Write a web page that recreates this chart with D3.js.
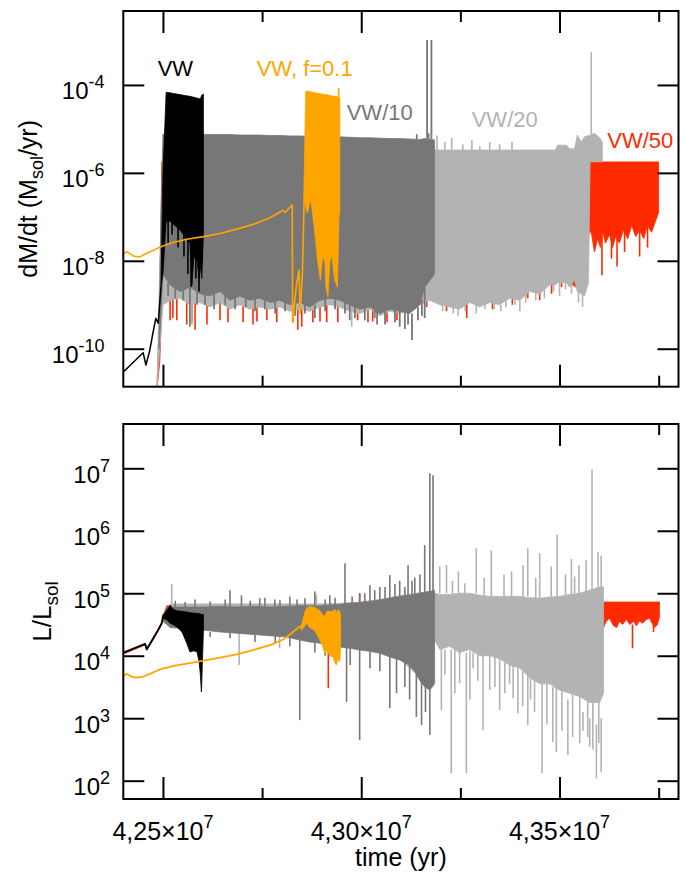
<!DOCTYPE html>
<html><head><meta charset="utf-8">
<script src="https://cdn.jsdelivr.net/npm/d3@7"></script>
<style>body{margin:0;background:#fff}svg{display:block}</style>
</head><body>
<script>
// ================= DATA (time in units of 1e7 yr, values as log10) =================
const xMajor = [4.25, 4.30, 4.35];
const xMinor = [4.275, 4.325, 4.375];
const xLabels = ["4,25", "4,30", "4,35"];
const yTopTicks = [-4, -6, -8, -10];
const yBotTicks = [2, 3, 4, 5, 6, 7];

// ---------- upper panel: log10 dM/dt ----------
const vwPreT = [4.2400, 4.2450, 4.2457, 4.2466, 4.2476, 4.2482, 4.2488, 4.2495];
const vwPreM = [-10.53, -10.09, -10.37, -10.07, -9.58, -9.31, -9.42, -8.6];
const vwT  = [4.2495, 4.2500, 4.2508, 4.2518, 4.2530, 4.2543, 4.2555, 4.2568, 4.2573, 4.2578, 4.2586, 4.2591, 4.2594, 4.2598, 4.2602];
const vwHi = [-8.6, -6.0, -4.17, -4.18, -4.20, -4.22, -4.24, -4.26, -4.27, -4.28, -4.30, -4.31, -4.32, -4.23, -4.21];
const vwLo = [-8.6, -8.3, -7.1, -7.1, -7.2, -7.3, -7.45, -7.6, -8.55, -7.9, -8.0, -8.4, -8.1, -8.4, -7.4];
const vwSpikes = [[4.2513,-7.1,-7.6],[4.2523,-7.1,-7.4],[4.2538,-7.2,-7.7],[4.2553,-7.4,-7.9],[4.2563,-7.5,-8.3],[4.2571,-7.6,-8.59],[4.2583,-7.9,-8.4],[4.2591,-8.0,-8.7],[4.2598,-7.8,-8.0]];

const vw10T  = [4.2490, 4.2495, 4.2500, 4.2518, 4.2543, 4.2568, 4.2593, 4.2618, 4.2644, 4.2669, 4.2694, 4.2719, 4.2744, 4.2770, 4.2795, 4.2820, 4.2845, 4.2870, 4.2896, 4.2921, 4.2946, 4.2971, 4.2996, 4.3022, 4.3047, 4.3072, 4.3097, 4.3122, 4.3148, 4.3160, 4.3173, 4.3185];
const vw10Hi = [-10.0, -7.0, -5.12, -5.12, -5.12, -5.12, -5.12, -5.13, -5.13, -5.13, -5.14, -5.14, -5.14, -5.15, -5.15, -5.16, -5.16, -5.17, -5.17, -5.18, -5.18, -5.19, -5.20, -5.20, -5.21, -5.22, -5.22, -5.23, -5.24, -5.22, -5.24, -5.25];
const vw10Lo = [-10.0, -9.2, -8.3, -8.55, -8.7, -8.6, -8.75, -8.8, -8.7, -8.9, -8.8, -8.9, -8.85, -8.95, -8.9, -9.0, -8.95, -9.05, -8.9, -8.85, -8.9, -9.0, -9.1, -9.05, -9.2, -9.1, -9.15, -9.2, -9.0, -8.6, -8.45, -8.3];
const vw10Spikes = [[4.2568,-8.6,-9.5],[4.2883,-9.0,-9.3],[4.2971,-9.0,-9.35],[4.3040,-9.1,-9.45],[4.3097,-9.15,-9.5],[4.3110,-9.1,-9.55],[4.3128,-9.2,-9.8],[4.3160,-8.6,-9.3],[4.3166,-5.22,-2.98],[4.3177,-5.24,-2.98],
  [4.2513,-8.5,-8.8],[4.2531,-8.6,-8.85],[4.2551,-8.65,-8.9],[4.2586,-8.7,-9.0],[4.2606,-8.75,-9.0],[4.2629,-8.75,-9.1],[4.2657,-8.8,-9.0],[4.2682,-8.85,-9.1],[4.2709,-8.85,-9.05],[4.2732,-8.85,-9.15],[4.2757,-8.9,-9.1],[4.2783,-8.9,-9.2],[4.2808,-8.95,-9.15],[4.2833,-8.95,-9.25],[4.2858,-9.0,-9.2],[4.2909,-8.85,-9.15],[4.2934,-8.9,-9.1],[4.2959,-8.95,-9.2],[4.2984,-9.05,-9.3],[4.3009,-9.05,-9.35],[4.3034,-9.1,-9.3],[4.3060,-9.15,-9.45],[4.3085,-9.1,-9.4],[4.3118,-9.15,-9.45],[4.3143,-9.05,-9.35],[4.3153,-8.9,-9.25],[4.3170,-5.24,-5.1],[4.3140,-5.23,-5.12]];

const vw20T  = [4.2485, 4.2492, 4.2500, 4.2518, 4.2543, 4.2568, 4.2593, 4.2618, 4.2644, 4.2669, 4.2694, 4.2719, 4.2744, 4.2770, 4.2795, 4.2820, 4.2845, 4.2870, 4.2896, 4.2921, 4.2946, 4.2971, 4.2996, 4.3022, 4.3047, 4.3072, 4.3097, 4.3122, 4.3148, 4.3173, 4.3198, 4.3223, 4.3248, 4.3273, 4.3299, 4.3324, 4.3349, 4.3374, 4.3400, 4.3425, 4.3450, 4.3475, 4.3490, 4.3495, 4.3518, 4.3525, 4.3538, 4.3545, 4.3555, 4.3563, 4.3573, 4.3577, 4.3588, 4.3601, 4.3608];
const vw20Hi = [-10.9, -8.0, -5.48, -5.48, -5.48, -5.48, -5.48, -5.48, -5.48, -5.48, -5.48, -5.48, -5.48, -5.48, -5.48, -5.48, -5.48, -5.48, -5.48, -5.48, -5.48, -5.48, -5.48, -5.48, -5.48, -5.48, -5.48, -5.48, -5.48, -5.48, -5.48, -5.48, -5.48, -5.48, -5.48, -5.48, -5.48, -5.48, -5.48, -5.48, -5.48, -5.48, -5.48, -5.37, -5.37, -5.45, -5.45, -5.14, -5.3, -5.18, -5.15, -5.15, -5.1, -5.2, -5.3];
const vw20Lo = [-10.9, -10.0, -9.0, -8.9, -8.85, -9.0, -8.95, -9.05, -8.95, -9.1, -9.0, -9.1, -9.05, -9.1, -9.05, -9.15, -9.1, -9.15, -9.05, -9.0, -9.05, -9.15, -9.2, -9.1, -9.25, -9.15, -9.2, -9.1, -9.0, -8.9, -9.0, -9.05, -9.1, -8.95, -9.05, -8.95, -9.0, -8.85, -8.9, -8.7, -8.75, -8.55, -8.55, -8.5, -8.5, -8.6, -8.45, -8.7, -8.75, -8.8, -8.5, -5.75, -5.75, -5.75, -5.75];
const vw20Spikes = [[4.2573,-9.0,-9.45],[4.2976,-9.15,-9.5],[4.3191,-5.48,-5.15],[4.3211,-5.48,-5.3],[4.3228,-5.48,-5.2],[4.3244,-9.1,-9.25],[4.3256,-5.48,-5.35],[4.3279,-5.48,-5.25],[4.3299,-5.48,-5.4],[4.3324,-5.48,-5.3],[4.3349,-5.48,-5.35],[4.3352,-9.0,-9.15],[4.3380,-5.48,-5.3],[4.3400,-8.9,-9.15],[4.3500,-8.5,-8.8],[4.3558,-8.75,-9.05],[4.3580,-5.2,-3.25],
  [4.3205,-8.95,-9.15],[4.3232,-9.05,-9.2],[4.3262,-9.0,-9.15],[4.3290,-9.0,-9.2],[4.3312,-8.95,-9.1],[4.3335,-8.95,-9.1],[4.3365,-8.9,-9.05],[4.3388,-8.85,-9.0],[4.3415,-8.75,-8.95],[4.3440,-8.7,-8.9],[4.3462,-8.65,-8.85],[4.3485,-8.55,-8.7],[4.3515,-8.5,-8.65],[4.3530,-8.5,-8.75],[4.3548,-8.7,-8.95]];

const vw50T  = [4.2485, 4.2492, 4.2497, 4.2518, 4.2543, 4.2568, 4.2593, 4.2618, 4.2644, 4.2669, 4.2694, 4.2719, 4.2744, 4.2770, 4.2795, 4.2820, 4.2845, 4.2870, 4.2896, 4.2921, 4.2946, 4.2971, 4.2996, 4.3022, 4.3047, 4.3072, 4.3097, 4.3122, 4.3148, 4.3173, 4.3198, 4.3223, 4.3248, 4.3273, 4.3299, 4.3324, 4.3349, 4.3374, 4.3400, 4.3425, 4.3450, 4.3475, 4.3500, 4.3525, 4.3550, 4.3576, 4.3581, 4.3588, 4.3596, 4.3603, 4.3608, 4.3616, 4.3626, 4.3634, 4.3641, 4.3651, 4.3661, 4.3672, 4.3682, 4.3692, 4.3702, 4.3712, 4.3722, 4.3732, 4.3742, 4.3750];
const vw50Hi = [-10.9, -9.0, -5.75, -5.75, -5.75, -5.75, -5.75, -5.75, -5.75, -5.75, -5.75, -5.75, -5.75, -5.75, -5.75, -5.75, -5.75, -5.75, -5.75, -5.75, -5.75, -5.75, -5.75, -5.75, -5.75, -5.75, -5.75, -5.75, -5.75, -5.75, -5.75, -5.75, -5.75, -5.75, -5.75, -5.75, -5.75, -5.75, -5.75, -5.75, -5.75, -5.75, -5.75, -5.75, -5.75, -5.75, -5.75, -5.75, -5.75, -5.75, -5.75, -5.75, -5.75, -5.75, -5.75, -5.75, -5.75, -5.75, -5.75, -5.75, -5.75, -5.75, -5.75, -5.75, -5.75, -5.75];
const vw50Lo = [-10.9, -10.3, -9.0, -8.85, -8.8, -8.95, -8.9, -9.0, -8.9, -9.05, -8.95, -9.05, -9.0, -9.05, -9.0, -9.1, -9.05, -9.1, -9.0, -8.95, -9.0, -9.1, -9.15, -9.05, -9.2, -9.1, -9.15, -9.05, -8.95, -8.85, -8.95, -9.0, -9.05, -8.9, -9.0, -8.9, -8.95, -8.8, -8.85, -8.65, -8.7, -8.5, -8.45, -8.5, -8.65, -7.3, -7.4, -7.8, -7.5, -7.7, -7.3, -7.6, -7.4, -7.7, -7.45, -7.6, -7.3, -7.5, -7.2, -7.45, -7.3, -7.5, -7.2, -7.35, -7.1, -6.9];
const vw50Spikes = [[4.2518,-8.85,-9.35],[4.2525,-8.85,-9.3],[4.2535,-8.85,-9.35],[4.2560,-8.9,-9.45],[4.2573,-8.95,-9.4],[4.2581,-8.95,-9.57],[4.2611,-9.0,-9.45],[4.2644,-8.9,-9.35],[4.2664,-9.0,-9.4],[4.2702,-9.0,-9.4],[4.2727,-9.0,-9.45],[4.2737,-9.0,-9.38],[4.2762,-9.0,-9.35],[4.2787,-9.0,-9.4],[4.2828,-9.1,-9.4],[4.2840,-9.05,-9.57],[4.2850,-9.05,-9.5],[4.2878,-9.1,-9.4],[4.2896,-9.0,-9.38],[4.2913,-9.0,-9.4],[4.2941,-9.0,-9.4],[4.2991,-9.1,-9.35],[4.3017,-9.1,-9.4],[4.3029,-9.1,-9.38],[4.3065,-9.1,-9.4],[4.3090,-9.1,-9.35],[4.3165,-8.85,-9.05],[4.3215,-8.95,-9.15],[4.3266,-8.9,-9.3],[4.3331,-8.9,-9.1],[4.3381,-8.8,-9.0],[4.3420,-8.65,-8.85],[4.3450,-8.7,-8.9],[4.3480,-8.5,-8.75],[4.3505,-8.45,-8.6],[4.3607,-7.3,-8.33],[4.3631,-7.5,-7.95],[4.3645,-7.5,-8.13],[4.3664,-7.3,-7.8],[4.3702,-7.3,-7.9],[4.3722,-7.2,-7.7]];

const vwf01LineT = [4.2400, 4.2409, 4.2425, 4.2442, 4.2459, 4.2476, 4.2492, 4.2518, 4.2560, 4.2602, 4.2644, 4.2686, 4.2728, 4.2770, 4.2803, 4.2809, 4.2814, 4.2826, 4.2827, 4.2836, 4.2843, 4.2846, 4.2852, 4.2856];
const vwf01LineM = [-7.84, -7.79, -7.89, -7.91, -7.83, -7.76, -7.69, -7.6, -7.51, -7.45, -7.38, -7.28, -7.17, -7.02, -6.85, -6.9, -6.84, -6.73, -9.39, -8.6, -8.21, -9.2, -8.2, -6.6];
const vwf01T  = [4.2855, 4.2860, 4.2864, 4.2870, 4.2873, 4.2883, 4.2890, 4.2897, 4.2903, 4.2908, 4.2911, 4.2916, 4.2921, 4.2926, 4.2933, 4.2940, 4.2944, 4.2946];
const vwf01Hi = [-6.6, -4.15, -4.14, -4.15, -4.16, -4.18, -4.19, -4.2, -4.21, -4.22, -4.22, -4.23, -4.24, -4.25, -4.26, -4.27, -4.28, -4.3];
const vwf01Lo = [-6.6, -6.8, -6.92, -6.7, -6.62, -7.37, -8.0, -8.44, -7.9, -8.0, -8.6, -8.82, -8.0, -7.9, -8.44, -8.6, -7.0, -6.9];
const vwf01Spikes = [[4.2943,-4.28,-4.07]];

// ---------- lower panel: log10 L/Lsol ----------
const lvwPreT = [4.2400, 4.2455, 4.2459, 4.2476, 4.2488, 4.2497, 4.2501];
const lvwPreL = [4.05, 4.19, 4.10, 4.28, 4.41, 4.52, 4.65];
const lvw50PreL = [4.03, 4.18, 4.11, 4.29, 4.42, 4.53, 4.66];
const lvwT  = [4.2501, 4.2510, 4.2518, 4.2525, 4.2535, 4.2548, 4.2560, 4.2568, 4.2578, 4.2586, 4.2591, 4.2594, 4.2597, 4.2598, 4.2602];
const lvwHi = [4.65, 4.73, 4.81, 4.75, 4.72, 4.71, 4.70, 4.69, 4.68, 4.68, 4.67, 4.67, 4.66, 4.66, 4.66];
const lvwLo = [4.60, 4.57, 4.52, 4.50, 4.46, 4.38, 4.20, 4.06, 4.08, 4.06, 3.90, 3.72, 3.42, 3.60, 4.40];

const lvw10T  = [4.2500, 4.2510, 4.2518, 4.2543, 4.2568, 4.2593, 4.2602, 4.2644, 4.2686, 4.2728, 4.2770, 4.2812, 4.2845, 4.2870, 4.2896, 4.2921, 4.2946, 4.2971, 4.2996, 4.3022, 4.3047, 4.3072, 4.3097, 4.3122, 4.3135, 4.3148, 4.3160, 4.3173, 4.3185];
const lvw10Hi = [4.60, 4.76, 4.78, 4.78, 4.78, 4.78, 4.78, 4.79, 4.78, 4.79, 4.78, 4.79, 4.80, 4.80, 4.80, 4.81, 4.82, 4.84, 4.85, 4.87, 4.89, 4.92, 4.95, 4.97, 4.98, 5.00, 5.02, 5.03, 5.05];
const lvw10Lo = [4.55, 4.50, 4.45, 4.44, 4.43, 4.42, 4.41, 4.38, 4.36, 4.34, 4.32, 4.30, 4.25, 4.22, 4.20, 4.18, 4.14, 4.12, 4.09, 4.07, 4.04, 3.98, 3.93, 3.85, 3.75, 3.60, 3.50, 3.45, 3.55];
const lvw10Spikes = [[4.2669,4.78,5.05],[4.2698,4.78,4.97],[4.2744,4.78,4.92],[4.2782,4.78,4.90],[4.2820,4.79,4.95],[4.2845,4.30,2.97],[4.2883,4.80,5.03],[4.2921,4.80,4.97],[4.2959,4.82,5.48],[4.2963,4.20,3.26],[4.2996,4.20,2.65],[4.2996,4.85,5.00],[4.3022,4.87,5.13],[4.3047,4.89,5.10],[4.3072,4.92,5.29],[4.3072,4.00,3.16],[4.3089,4.00,3.40],[4.3097,4.95,5.20],[4.3118,4.96,5.45],[4.3135,4.98,5.25],[4.3139,3.80,3.02],[4.3152,3.60,2.89],[4.3160,5.00,5.77],[4.3162,3.50,3.10],[4.3173,3.50,2.73],[4.3173,5.00,6.92],[4.3181,5.00,6.89],
  [4.2531,4.78,4.88],[4.2556,4.78,4.86],[4.2581,4.78,4.90],[4.2619,4.78,4.87],[4.2657,4.78,4.90],[4.2720,4.79,4.88],[4.2757,4.78,4.93],[4.2795,4.78,4.89],[4.2838,4.80,4.90],[4.2858,4.80,4.92],[4.2909,4.80,4.90],[4.2934,4.81,4.93],[4.2977,4.84,4.95],[4.3009,4.86,5.00],[4.3034,4.88,5.05],[4.3060,4.90,5.10],[4.3085,4.93,5.15],[4.3110,4.96,5.10],[4.3128,4.97,5.20],[4.3148,5.00,5.30],
  [4.2619,4.38,4.30],[4.2669,4.37,4.28],[4.2732,4.34,4.22],[4.2783,4.32,4.20],[4.2820,4.30,4.15],[4.2883,4.21,4.05],[4.2909,4.19,4.00],[4.2934,4.16,3.95],[4.2972,4.12,3.85],[4.3022,4.07,3.80],[4.3047,4.04,3.75],[4.3110,3.90,3.50],[4.3122,3.85,3.30]];

const lvw20T  = [4.2500, 4.2518, 4.2543, 4.2568, 4.2593, 4.2644, 4.2686, 4.2728, 4.2770, 4.2812, 4.2845, 4.2896, 4.2946, 4.2996, 4.3047, 4.3097, 4.3148, 4.3185, 4.3198, 4.3223, 4.3248, 4.3273, 4.3299, 4.3324, 4.3349, 4.3374, 4.3400, 4.3425, 4.3450, 4.3475, 4.3500, 4.3525, 4.3550, 4.3576, 4.3601, 4.3611];
const lvw20Hi = [4.60, 4.83, 4.83, 4.83, 4.83, 4.83, 4.83, 4.83, 4.83, 4.83, 4.83, 4.83, 4.84, 4.86, 4.90, 4.96, 5.01, 5.00, 4.98, 4.98, 5.00, 5.00, 4.97, 4.95, 4.95, 4.95, 4.95, 4.93, 4.92, 4.94, 4.95, 4.98, 5.00, 5.05, 5.10, 5.10];
const lvw20Lo = [4.55, 4.47, 4.46, 4.45, 4.44, 4.40, 4.38, 4.36, 4.34, 4.32, 4.27, 4.22, 4.16, 4.11, 4.06, 3.95, 3.65, 4.25, 4.10, 4.15, 4.05, 4.10, 4.00, 4.00, 3.95, 3.85, 3.80, 3.65, 3.55, 3.55, 3.45, 3.40, 3.35, 3.25, 3.25, 3.40];
const lvw20Spikes = [[4.2522,4.80,5.15],[4.2692,4.36,3.85],[4.2794,4.32,4.12],[4.2887,4.80,4.98],[4.3198,5.00,5.43],[4.3202,4.20,3.13],[4.3215,5.00,5.45],[4.3227,4.10,2.12],[4.3248,4.10,3.56],[4.3261,5.00,5.16],[4.3265,4.05,2.12],[4.3282,4.05,3.80],[4.3290,5.00,5.72],[4.3307,4.00,2.81],[4.3324,4.00,3.45],[4.3328,4.95,5.69],[4.3349,3.95,3.13],[4.3374,3.90,3.55],[4.3379,4.95,5.35],[4.3383,3.90,3.32],[4.3395,3.85,3.08],[4.3408,4.95,5.45],[4.3420,3.80,2.89],[4.3420,4.95,5.72],[4.3437,3.70,3.10],[4.3450,4.92,5.64],[4.3456,3.55,2.12],[4.3479,4.95,5.43],[4.3483,3.50,2.62],[4.3492,3.50,2.46],[4.3494,4.95,5.94],[4.3521,3.30,2.41],[4.3538,5.00,5.27],[4.3549,5.00,5.45],[4.3559,3.10,2.80],[4.3567,5.00,5.53],[4.3576,3.00,2.54],[4.3582,5.05,6.98],[4.3593,2.90,2.04],[4.3597,5.10,5.66],[4.3605,3.00,2.14],[4.3605,5.10,5.60],
  [4.3211,4.10,3.70],[4.3236,4.10,3.40],[4.3274,4.08,3.30],[4.3294,4.02,3.60],[4.3337,3.98,3.50],[4.3362,3.90,3.40],[4.3407,3.75,3.20],[4.3427,3.65,3.30],[4.3468,3.55,2.90],[4.3506,3.45,2.80],[4.3533,3.38,2.70],[4.3551,3.35,2.60],[4.3571,3.28,2.70],[4.3584,3.25,2.50],[4.3599,3.25,2.60],
  [4.3230,4.98,5.20],[4.3245,5.00,5.35],[4.3310,4.96,5.25],[4.3360,4.95,5.30],[4.3440,4.92,5.25],[4.3515,4.97,5.30],[4.3530,4.98,5.55]];

const lvw50T  = [4.2501, 4.2510, 4.2600, 4.2800, 4.3000, 4.3200, 4.3400, 4.3600, 4.3611, 4.3618, 4.3626, 4.3636, 4.3644, 4.3651, 4.3659, 4.3669, 4.3677, 4.3687, 4.3694, 4.3702, 4.3709, 4.3719, 4.3727, 4.3735, 4.3740, 4.3747, 4.3752];
const lvw50Hi = [4.66, 4.80, 4.80, 4.80, 4.80, 4.80, 4.80, 4.80, 4.86, 4.86, 4.86, 4.86, 4.86, 4.86, 4.86, 4.86, 4.86, 4.86, 4.86, 4.86, 4.86, 4.86, 4.86, 4.86, 4.86, 4.86, 4.86];
const lvw50Lo = [4.60, 4.60, 4.60, 4.60, 4.60, 4.60, 4.60, 4.60, 4.45, 4.55, 4.60, 4.48, 4.45, 4.55, 4.50, 4.58, 4.50, 4.55, 4.48, 4.56, 4.52, 4.58, 4.60, 4.50, 4.45, 4.50, 4.62];
const lvw50Spikes = [[4.2917,4.40,3.48],[4.2996,4.85,5.00],[4.3190,4.80,4.90],[4.3684,4.50,4.12],[4.3737,4.50,4.38]];

const lvwf01LineT = [4.2400, 4.2409, 4.2419, 4.2432, 4.2447, 4.2467, 4.2492, 4.2530, 4.2568, 4.2602, 4.2644, 4.2686, 4.2727, 4.2770, 4.2803, 4.2812, 4.2828, 4.2845];
const lvwf01LineL = [3.67, 3.71, 3.67, 3.65, 3.66, 3.71, 3.78, 3.84, 3.88, 3.92, 3.97, 4.02, 4.09, 4.17, 4.26, 4.30, 4.38, 4.47];
const lvwf01T  = [4.2845, 4.2850, 4.2858, 4.2862, 4.2870, 4.2883, 4.2896, 4.2903, 4.2908, 4.2912, 4.2917, 4.2921, 4.2929, 4.2933, 4.2937, 4.2942, 4.2946, 4.2948];
const lvwf01Hi = [4.47, 4.50, 4.70, 4.76, 4.79, 4.77, 4.72, 4.65, 4.63, 4.70, 4.72, 4.70, 4.72, 4.74, 4.70, 4.73, 4.72, 4.60];
const lvwf01Lo = [4.47, 4.41, 4.48, 4.52, 4.45, 4.40, 4.25, 4.15, 4.04, 4.08, 4.04, 4.00, 3.98, 3.90, 3.85, 3.95, 3.90, 4.20];

const seriesNames = ["VW", "VW, f=0.1", "VW/10", "VW/20", "VW/50"];
const seriesColors = ["#000000", "#ffa500", "#777777", "#b3b3b3", "#ff2a00"];

// ================= DRAWING =================
const FONT = "'Liberation Sans', Arial, Helvetica, sans-serif";
const W = 686, H = 881;
const X0 = 123.3, X1 = 678.5;
const P1 = {top: 11, bottom: 386.7};
const P2 = {top: 424, bottom: 799};

const svg = d3.select("body").append("svg").attr("width", W).attr("height", H)
  .style("font-family", FONT);

const x = d3.scaleLinear().domain([4.24e7, 4.38e7]).range([X0, X1]);
const yTop = d3.scaleLog().domain([Math.pow(10, -10.864), Math.pow(10, -2.318)]).range([P1.bottom, P1.top]);
const yBot = d3.scaleLog().domain([Math.pow(10, 1.707), Math.pow(10, 7.709)]).range([P2.bottom, P2.top]);

const defs = svg.append("defs");
[["c1", P1], ["c2", P2]].forEach(([id, p]) => {
  defs.append("clipPath").attr("id", id).append("rect")
    .attr("x", X0).attr("y", p.top).attr("width", X1 - X0).attr("height", p.bottom - p.top);
});

function band(g, y, T, hi, lo, color) {
  const data = T.map((t, i) => ({t, hi: hi[i], lo: lo[i]}));
  g.append("path").datum(data)
    .attr("fill", color).attr("stroke", color).attr("stroke-width", 0.8).attr("stroke-linejoin", "round")
    .attr("d", d3.area().x(d => x(d.t * 1e7)).y0(d => y(Math.pow(10, d.lo))).y1(d => y(Math.pow(10, d.hi))));
}
function line(g, y, T, V, color, w) {
  const data = T.map((t, i) => ({t, v: V[i]}));
  g.append("path").datum(data).attr("fill", "none").attr("stroke", color).attr("stroke-width", w)
    .attr("stroke-linejoin", "round")
    .attr("d", d3.line().x(d => x(d.t * 1e7)).y(d => y(Math.pow(10, d.v))));
}
function spikes(g, y, S, color, w) {
  g.selectAll(null).data(S).enter().append("line")
    .attr("x1", d => x(d[0] * 1e7)).attr("x2", d => x(d[0] * 1e7))
    .attr("y1", d => y(Math.pow(10, d[1]))).attr("y2", d => y(Math.pow(10, d[2])))
    .attr("stroke", color).attr("stroke-width", w);
}

const [cVW, cF, c10, c20, c50] = seriesColors;

// ---- upper panel marks ----
const g1 = svg.append("g").attr("clip-path", "url(#c1)");
band(g1, yTop, vw50T, vw50Hi, vw50Lo, c50);
spikes(g1, yTop, vw50Spikes, c50, 1.6);
band(g1, yTop, vw20T, vw20Hi, vw20Lo, c20);
spikes(g1, yTop, vw20Spikes, c20, 1.6);
band(g1, yTop, vw10T, vw10Hi, vw10Lo, c10);
spikes(g1, yTop, vw10Spikes, c10, 1.8);
line(g1, yTop, vwPreT, vwPreM, cVW, 1.5);
band(g1, yTop, vwT, vwHi, vwLo, cVW);
spikes(g1, yTop, vwSpikes, cVW, 1.6);
line(g1, yTop, vwf01LineT, vwf01LineM, cF, 1.6);
band(g1, yTop, vwf01T, vwf01Hi, vwf01Lo, cF);
spikes(g1, yTop, vwf01Spikes, cF, 1.6);

// ---- lower panel marks ----
const g2 = svg.append("g").attr("clip-path", "url(#c2)");
line(g2, yBot, lvwPreT, lvw50PreL, c50, 1.6);
band(g2, yBot, lvw50T, lvw50Hi, lvw50Lo, c50);
spikes(g2, yBot, lvw50Spikes, c50, 1.6);
band(g2, yBot, lvw20T, lvw20Hi, lvw20Lo, c20);
spikes(g2, yBot, lvw20Spikes, c20, 1.6);
band(g2, yBot, lvw10T, lvw10Hi, lvw10Lo, c10);
spikes(g2, yBot, lvw10Spikes, c10, 1.6);
line(g2, yBot, lvwPreT, lvwPreL, cVW, 1.8);
band(g2, yBot, lvwT, lvwHi, lvwLo, cVW);
line(g2, yBot, lvwf01LineT, lvwf01LineL, cF, 1.8);
band(g2, yBot, lvwf01T, lvwf01Hi, lvwf01Lo, cF);

// ---- axes (inward ticks on all four sides) ----
function axes(p, y, yTicks) {
  const majors = xMajor.map(v => v * 1e7), minors = xMinor.map(v => v * 1e7);
  const mk = (gen, tr) => svg.append("g").attr("transform", tr).call(gen)
    .call(g => g.select(".domain").remove())
    .call(g => g.selectAll("line").attr("stroke", "#000").attr("stroke-width", 2));
  mk(d3.axisBottom(x).tickValues(majors).tickSize(-22).tickFormat(""), `translate(0,${p.bottom})`);
  mk(d3.axisBottom(x).tickValues(minors).tickSize(-11).tickFormat(""), `translate(0,${p.bottom})`);
  mk(d3.axisTop(x).tickValues(majors).tickSize(-22).tickFormat(""), `translate(0,${p.top})`);
  mk(d3.axisTop(x).tickValues(minors).tickSize(-11).tickFormat(""), `translate(0,${p.top})`);
  const yv = yTicks.map(e => Math.pow(10, e));
  mk(d3.axisLeft(y).tickValues(yv).tickSize(-21).tickFormat(""), `translate(${X0},0)`);
  mk(d3.axisRight(y).tickValues(yv).tickSize(-21).tickFormat(""), `translate(${X1},0)`);
  svg.append("rect").attr("x", X0).attr("y", p.top).attr("width", X1 - X0).attr("height", p.bottom - p.top)
    .attr("fill", "none").attr("stroke", "#000").attr("stroke-width", 2);
}
axes(P1, yTop, yTopTicks);
axes(P2, yBot, yBotTicks);

function yLabels(y, ticks, xr) {
  ticks.forEach(e => {
    const t = svg.append("text").attr("x", xr).attr("y", y(Math.pow(10, e)) + 14.5)
      .attr("text-anchor", "end").attr("font-size", 24).attr("fill", "#000");
    t.append("tspan").text("10");
    t.append("tspan").attr("dy", -11).attr("font-size", 18).text(String(e));
  });
}
yLabels(yTop, yTopTicks, 104.5);
yLabels(yBot, yBotTicks, 110);

xMajor.forEach((v, i) => {
  const t = svg.append("text").attr("x", x(v * 1e7)).attr("y", 840)
    .attr("text-anchor", "middle").attr("font-size", 25).attr("fill", "#000");
  t.append("tspan").text(xLabels[i] + "\u00d710");
  t.append("tspan").attr("dy", -12).attr("font-size", 18).text("7");
});

svg.append("text").attr("x", (X0 + X1) / 2).attr("y", 866).attr("text-anchor", "middle")
  .attr("font-size", 25).text("time (yr)");
{
  const t = svg.append("text").attr("transform", `translate(37,${(P1.top + P1.bottom) / 2}) rotate(-90)`)
    .attr("text-anchor", "middle").attr("font-size", 25);
  t.append("tspan").text("dM/dt (M");
  t.append("tspan").attr("dy", 6).attr("font-size", 18).text("sol");
  t.append("tspan").attr("dy", -6).text("/yr)");
}
{
  const t = svg.append("text").attr("transform", `translate(51,${(P2.top + P2.bottom) / 2}) rotate(-90)`)
    .attr("text-anchor", "middle").attr("font-size", 26);
  t.append("tspan").text("L/L");
  t.append("tspan").attr("dy", 7).attr("font-size", 19).text("sol");
}

const labelPos = [[157.7, 76], [256.7, 76], [346.7, 120], [471.7, 126.7], [607.3, 148]];
seriesNames.forEach((n, i) => {
  svg.append("text").attr("x", labelPos[i][0]).attr("y", labelPos[i][1])
    .attr("font-size", 22).attr("fill", seriesColors[i]).text(n);
});
</script>
</body></html>
